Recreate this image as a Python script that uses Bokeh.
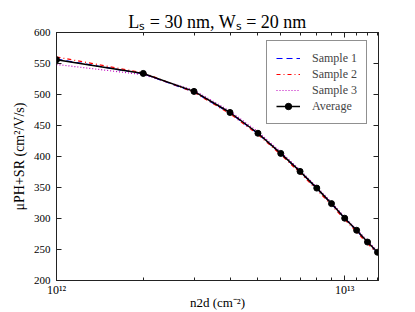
from bokeh.plotting import figure
from bokeh.models import (Range1d, FixedTicker, LogAxis, LinearAxis,
                          CustomJSTickFormatter)
from bokeh.embed import file_html
from bokeh.resources import INLINE

# ---- data ----
n2d = [1e12, 2e12, 3e12, 4e12, 5e12, 6e12, 7e12, 8e12, 9e12, 1e13, 1.1e13, 1.2e13, 1.3e13]
sample1 = [557, 533.5, 504, 470, 437, 404.5, 375.5, 348.5, 323.5, 300.5, 280.5, 261.5, 245]
sample2 = [560.5, 535, 503.5, 469, 435.5, 403, 373.5, 346.5, 321.5, 298.5, 278.5, 259.5, 243.5]
sample3 = [548.5, 532, 507, 473, 440, 407.5, 378, 351, 326, 302.5, 282.5, 264, 247.5]
average = [556, 534, 505, 471, 437.5, 405, 376, 349, 324, 300.5, 281, 262, 245.5]

x_ticks = [1e12, 1e13]
x_tick_labels = ["10\u00b9\u00b2", "10\u00b9\u00b3"]
x_minor_ticks = [2e12, 3e12, 4e12, 5e12, 6e12, 7e12, 8e12, 9e12, 1.1e13, 1.2e13, 1.3e13]
y_ticks = [200, 250, 300, 350, 400, 450, 500, 550, 600]

title_text = "L\u209b = 30 nm, W\u209b = 20 nm"
x_label = "n2d (cm\u207b\u00b2)"
y_label = "\u03bcPH+SR (cm\u00b2/V/s)"

FONT = "Liberation Serif"
AX = "#222222"

p = figure(width=415, height=312, x_axis_type="log",
           x_range=Range1d(1e12, 1.31e13), y_range=Range1d(200, 600),
           output_backend="svg", toolbar_location=None,
           min_border_left=56, min_border_right=37,
           min_border_top=32, min_border_bottom=32,
           title=title_text)
p.grid.visible = False
p.outline_line_color = AX
p.background_fill_color = "white"
p.border_fill_color = "white"

p.title.align = "center"
p.title.text_font = FONT
p.title.text_font_size = "18px"
p.title.text_font_style = "normal"
p.title.text_color = "#000000"
p.title.standoff = 2

xfmt = CustomJSTickFormatter(args=dict(xt=x_ticks, xl=x_tick_labels), code="""
for (let i = 0; i < xt.length; i++) {
  if (Math.abs(Math.log10(tick) - Math.log10(xt[i])) < 1e-6) return xl[i];
}
return "";
""")
blank = CustomJSTickFormatter(code="return '';")

def style(ax):
    ax.axis_line_color = AX
    ax.axis_line_width = 1
    ax.major_tick_line_color = AX
    ax.minor_tick_line_color = AX
    ax.major_tick_in = 5
    ax.major_tick_out = 0
    ax.minor_tick_in = 3
    ax.minor_tick_out = 0
    ax.major_label_text_font = FONT
    ax.major_label_text_font_size = "11px"
    ax.major_label_text_color = "#000000"
    ax.axis_label_text_font = FONT
    ax.axis_label_text_font_style = "normal"
    ax.axis_label_text_color = "#000000"

xax = p.xaxis[0]
xax.ticker = FixedTicker(ticks=x_ticks, minor_ticks=x_minor_ticks)
xax.formatter = xfmt
style(xax)
xax.major_label_text_font_size = "12px"
xax.major_label_standoff = 2
xax.axis_label = x_label
xax.axis_label_text_font_size = "13px"
xax.axis_label_standoff = -5

yax = p.yaxis[0]
yax.ticker = FixedTicker(ticks=y_ticks, minor_ticks=[])
style(yax)
yax.major_label_standoff = 6
yax.axis_label = y_label
yax.axis_label_text_font_size = "14px"
yax.axis_label_standoff = 4

top = LogAxis(ticker=FixedTicker(ticks=x_ticks, minor_ticks=x_minor_ticks), formatter=blank)
style(top)
top.major_label_standoff = 0
p.add_layout(top, "above")

right = LinearAxis(ticker=FixedTicker(ticks=y_ticks, minor_ticks=[]), formatter=blank)
style(right)
right.major_label_standoff = 0
p.add_layout(right, "right")

# ---- series ----
p.line(n2d, sample1, line_color="#0000ff", line_width=1.2, line_dash="6 4", legend_label="Sample 1")
p.line(n2d, sample2, line_color="#ff0000", line_width=1.2, line_dash="4 3 1 3", legend_label="Sample 2")
p.line(n2d, sample3, line_color="#bf00bf", line_width=1.2, line_dash="1 2", legend_label="Sample 3")
p.line(n2d, average, line_color="#000000", line_width=1.5, legend_label="Average")
p.scatter(n2d, average, size=6, fill_color="#000000", line_color="#000000", legend_label="Average")

lg = p.legend[0]
lg.location = (210, 156)
lg.margin = 0
lg.padding = 9
lg.spacing = 0
lg.glyph_width = 24
lg.glyph_height = 16
lg.label_height = 16
lg.label_standoff = 12
lg.label_text_font = FONT
lg.label_text_font_size = "12px"
lg.border_line_color = AX
lg.border_line_width = 1
lg.background_fill_alpha = 1

open("out.html", "w").write(file_html(p, INLINE))
